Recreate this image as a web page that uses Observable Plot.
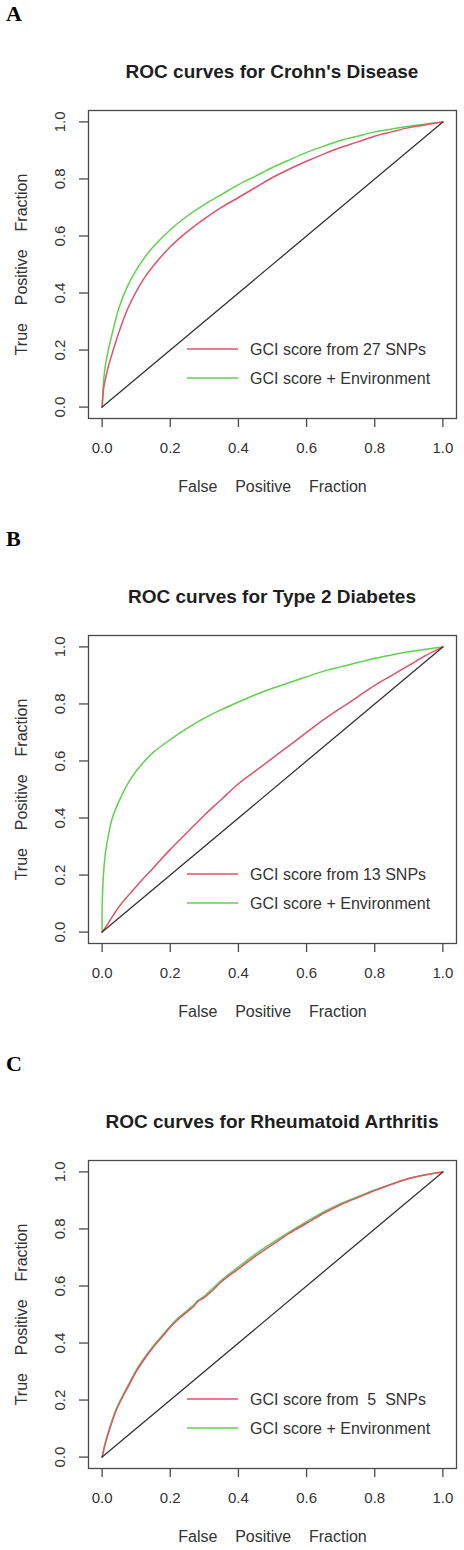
<!DOCTYPE html>
<html>
<head>
<meta charset="utf-8">
<script src="https://cdn.jsdelivr.net/npm/d3@7"></script>
<script src="https://cdn.jsdelivr.net/npm/@observablehq/plot@0.6"></script>
<style>
  body { margin: 0; background: #fff; }
  #root { position: relative; width: 464px; height: 1550px; overflow: hidden; }
  .panel { position: absolute; left: 0; width: 464px; }
  .panel svg { position: absolute; left: 0; top: 0; }
  .letter { position: absolute; left: 6px; top: 3px; font: bold 22px/22px "Liberation Serif", "Times New Roman", serif; color: #000; }
  .title { position: absolute; left: 88px; width: 368px; top: 62px; text-align: center; font: bold 19px/19px "Liberation Sans", Arial, sans-serif; color: #1e1e1e; z-index: 2; }
</style>
</head>
<body>
<div id="root"></div>
<script>
// ---- data ----
const panelLetters = ["A", "B", "C"];
const panelTitles = [
  "ROC curves for Crohn's Disease",
  "ROC curves for Type 2 Diabetes",
  "ROC curves for Rheumatoid Arthritis"
];
const legendLabels = [
  ["GCI score from 27 SNPs", "GCI score + Environment"],
  ["GCI score from 13 SNPs", "GCI score + Environment"],
  ["GCI score from  5  SNPs", "GCI score + Environment"]
];
const xTicks = [0, 0.2, 0.4, 0.6, 0.8, 1.0];
const yTicks = [0, 0.2, 0.4, 0.6, 0.8, 1.0];
const xTitle = "False\u00a0\u00a0\u00a0\u00a0Positive\u00a0\u00a0\u00a0\u00a0Fraction";
const yTitle = "True\u00a0\u00a0\u00a0\u00a0Positive\u00a0\u00a0\u00a0\u00a0Fraction";
const chanceLine = [[0, 0], [1, 1]];

// [false positive fraction, true positive fraction]
const crohnSnps = [[0,0],[0.005,0.07],[0.01,0.10],[0.02,0.15],[0.03,0.19],[0.05,0.265],[0.075,0.345],[0.1,0.405],[0.125,0.455],[0.15,0.495],[0.2,0.562],[0.25,0.615],[0.3,0.66],[0.35,0.70],[0.4,0.735],[0.45,0.77],[0.5,0.805],[0.55,0.835],[0.6,0.862],[0.65,0.887],[0.7,0.91],[0.75,0.93],[0.8,0.95],[0.85,0.965],[0.9,0.98],[0.95,0.99],[1,1]];
const crohnEnv = [[0,0],[0.005,0.10],[0.01,0.15],[0.02,0.21],[0.03,0.26],[0.05,0.35],[0.075,0.425],[0.1,0.48],[0.125,0.525],[0.15,0.562],[0.2,0.622],[0.25,0.67],[0.3,0.71],[0.35,0.745],[0.4,0.78],[0.45,0.81],[0.5,0.84],[0.55,0.867],[0.6,0.893],[0.65,0.915],[0.7,0.935],[0.75,0.95],[0.8,0.965],[0.85,0.975],[0.9,0.985],[0.95,0.993],[1,1]];

const diabetesSnps = [[0,0],[0.02,0.035],[0.05,0.09],[0.1,0.16],[0.15,0.225],[0.2,0.29],[0.25,0.35],[0.3,0.41],[0.35,0.465],[0.4,0.52],[0.45,0.565],[0.5,0.61],[0.55,0.655],[0.6,0.70],[0.65,0.745],[0.7,0.785],[0.75,0.825],[0.8,0.865],[0.85,0.90],[0.9,0.935],[0.95,0.97],[1,1]];
const diabetesEnv = [[0,0],[0,0.08],[0.002,0.16],[0.005,0.22],[0.01,0.28],[0.02,0.35],[0.03,0.40],[0.05,0.46],[0.075,0.52],[0.1,0.565],[0.125,0.60],[0.15,0.63],[0.2,0.675],[0.25,0.715],[0.3,0.75],[0.35,0.78],[0.4,0.807],[0.45,0.832],[0.5,0.855],[0.55,0.875],[0.6,0.895],[0.65,0.915],[0.7,0.93],[0.75,0.945],[0.8,0.96],[0.85,0.972],[0.9,0.983],[0.95,0.992],[1,1]];

const arthritisSnps = [[0,0],[0.01,0.05],[0.02,0.09],[0.04,0.16],[0.06,0.21],[0.08,0.255],[0.1,0.30],[0.125,0.345],[0.15,0.385],[0.175,0.42],[0.2,0.455],[0.225,0.485],[0.25,0.51],[0.27,0.53],[0.28,0.545],[0.3,0.56],[0.325,0.585],[0.35,0.615],[0.4,0.66],[0.45,0.705],[0.5,0.745],[0.55,0.785],[0.6,0.82],[0.65,0.855],[0.7,0.885],[0.75,0.91],[0.8,0.935],[0.85,0.957],[0.9,0.977],[0.95,0.99],[1,1]];
const arthritisEnv = [[0,0],[0.01,0.055],[0.02,0.095],[0.04,0.165],[0.06,0.215],[0.08,0.26],[0.1,0.305],[0.125,0.35],[0.15,0.39],[0.175,0.425],[0.2,0.46],[0.225,0.49],[0.25,0.515],[0.27,0.535],[0.28,0.548],[0.3,0.565],[0.325,0.592],[0.35,0.62],[0.4,0.667],[0.45,0.712],[0.5,0.752],[0.55,0.79],[0.6,0.826],[0.65,0.86],[0.7,0.889],[0.75,0.913],[0.8,0.937],[0.85,0.958],[0.9,0.977],[0.95,0.99],[1,1]];

const panelSnps = [crohnSnps, diabetesSnps, arthritisSnps];
const panelEnv = [crohnEnv, diabetesEnv, arthritisEnv];

// ---- style ----
const FONT = '"Liberation Sans", Arial, sans-serif';
const seriesColors = ["#DF536B", "#61D04F"];
const textColor = "#333";
const panelTops = [0, 525, 1050];

function legendMark(labels) {
  return (index, scales, values, dim) => {
    const right = dim.width - dim.marginRight;
    const bottom = dim.height - dim.marginBottom;
    const g = d3.create("svg:g").attr("font-family", FONT).attr("font-size", 16).attr("text-anchor", "start");
    labels.forEach((lab, i) => {
      const y = bottom - 69 + i * 29;
      g.append("line")
        .attr("x1", right - 269).attr("x2", right - 218)
        .attr("y1", y).attr("y2", y)
        .attr("stroke", seriesColors[i]).attr("stroke-width", 1.5);
      g.append("text")
        .attr("x", right - 206).attr("y", y).attr("dy", "0.35em")
        .attr("text-anchor", "start")
        .attr("fill", textColor).style("white-space", "pre")
        .text(lab);
    });
    return g.node();
  };
}

const root = document.getElementById("root");
panelTitles.forEach((title, p) => {
  const panel = document.createElement("div");
  panel.className = "panel";
  panel.style.top = panelTops[p] + "px";
  panel.style.height = (p < 2 ? 525 : 500) + "px";

  const chart = Plot.plot({
    width: 464,
    height: 500,
    marginTop: 110,
    marginBottom: 82,
    marginLeft: 88,
    marginRight: 8,
    style: { fontFamily: FONT, background: "transparent", overflow: "visible" },
    x: { domain: [-0.04, 1.04] },
    y: { domain: [-0.04, 1.04] },
    marks: [
      Plot.line(panelEnv[p], { x: d => d[0], y: d => d[1], stroke: seriesColors[1], strokeWidth: 1.5, curve: "catmull-rom" }),
      Plot.line(panelSnps[p], { x: d => d[0], y: d => d[1], stroke: seriesColors[0], strokeWidth: 1.5, curve: "catmull-rom" }),
      Plot.line(chanceLine, { x: d => d[0], y: d => d[1], stroke: "#333", strokeWidth: 1.3 }),
      Plot.frame({ stroke: "#4a4a4a", strokeWidth: 1.3 }),
      Plot.axisX(xTicks, { tickSize: 9, tickPadding: 15, tickFormat: d3.format(".1f"), fontSize: 15, fill: textColor, stroke: "#4a4a4a", strokeWidth: 1.3, label: null }),
      Plot.axisY(yTicks, { tickSize: 9, fill: "none", stroke: "#4a4a4a", strokeWidth: 1.3, label: null }),
      Plot.text(yTicks, { y: d => d, text: d3.format(".1f"), frameAnchor: "left", textAnchor: "middle", lineAnchor: "middle", dx: -28, rotate: -90, fontSize: 15, fill: textColor }),
      Plot.text([xTitle], { text: d => d, frameAnchor: "bottom", textAnchor: "middle", dy: 73, fontSize: 16, fill: textColor }),
      Plot.text([yTitle], { text: d => d, frameAnchor: "left", textAnchor: "middle", lineAnchor: "middle", dx: -67, rotate: -90, fontSize: 16, fill: textColor }),
      legendMark(legendLabels[p])
    ]
  });
  panel.appendChild(chart);

  const letter = document.createElement("div");
  letter.className = "letter";
  letter.textContent = panelLetters[p];
  panel.appendChild(letter);

  const t = document.createElement("div");
  t.className = "title";
  t.textContent = title;
  panel.appendChild(t);

  root.appendChild(panel);
});
</script>
</body>
</html>
